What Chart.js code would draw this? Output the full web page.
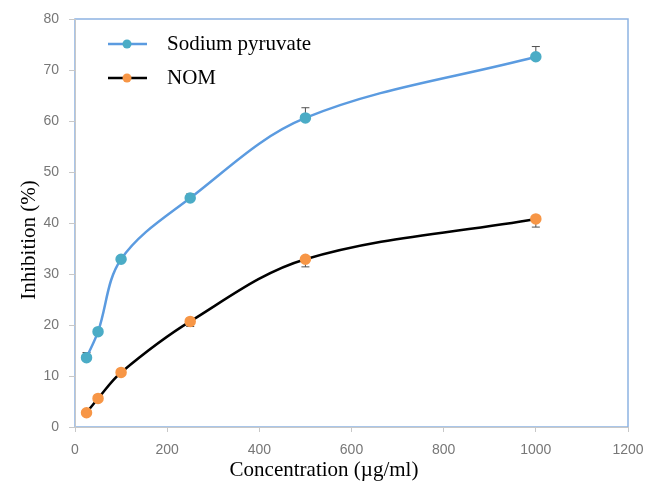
<!DOCTYPE html>
<html>
<head>
<meta charset="utf-8">
<script src="https://cdn.jsdelivr.net/npm/chart.js@4/dist/chart.umd.min.js"></script>
<style>
  html, body { margin: 0; padding: 0; background: #fff; }
  #wrap { width: 648px; height: 482px; }
</style>
</head>
<body>
<div id="wrap"><canvas id="inhibitionChart"></canvas></div>
<script>
// Données
const concentrations = [25, 50, 100, 250, 500, 1000];
const pyruvateValues = [13.6, 18.7, 32.9, 44.9, 60.6, 72.6];
const pyruvateErrors = [1, 0.5, 0.5, 0.8, 2, 2];
const nomValues = [2.8, 5.6, 10.7, 20.7, 32.9, 40.8];
const nomErrors = [0.5, 0.5, 0.5, 1, 1.5, 1.6];
const xTicks = [0, 200, 400, 600, 800, 1000, 1200];
const yTicks = [0, 10, 20, 30, 40, 50, 60, 70, 80];
const seriesNames = ['Sodium pyruvate', 'NOM'];
const xTitle = 'Concentration (\u00b5g/ml)';
const yTitle = 'Inhibition (%)';

const serif = '"Liberation Serif", "Times New Roman", serif';
const sans = '"Liberation Sans", Arial, sans-serif';

// barres d'erreur (SP vers le haut, NOM vers le bas) dessinées sous les marqueurs
const errorBars = {
    id: 'errorBars',
    beforeDatasetsDraw(chart) {
        const ctx = chart.ctx;
        const x = chart.scales.x, y = chart.scales.y;
        const sets = [[pyruvateValues, pyruvateErrors, 1], [nomValues, nomErrors, -1]];
        ctx.save();
        ctx.strokeStyle = '#505050';
        ctx.lineWidth = 1;
        sets.forEach(([vals, errs, dir]) => {
            vals.forEach((v, i) => {
                const px = x.getPixelForValue(concentrations[i]);
                const p0 = y.getPixelForValue(v);
                const p1 = y.getPixelForValue(v + dir * errs[i]);
                ctx.beginPath();
                ctx.moveTo(px, p0); ctx.lineTo(px, p1);
                ctx.moveTo(px - 4, p1); ctx.lineTo(px + 4, p1);
                ctx.stroke();
            });
        });
        ctx.restore();
    }
};

// cadre bleu, légende et titres des axes
const decorations = {
    id: 'decorations',
    beforeDraw(chart) {
        const {ctx, chartArea: a} = chart;
        ctx.save();
        ctx.strokeStyle = '#8db3e2';
        ctx.lineWidth = 1.5;
        ctx.strokeRect(a.left, a.top, a.right - a.left, a.bottom - a.top);
        ctx.restore();
    },
    afterDraw(chart) {
        const ctx = chart.ctx;
        ctx.save();
        ctx.fillStyle = '#000';
        ctx.font = '21px ' + serif;
        ctx.textAlign = 'center';
        ctx.textBaseline = 'middle';
        ctx.fillText(xTitle, 324, 470);
        ctx.translate(29, 240);
        ctx.rotate(-Math.PI / 2);
        ctx.fillText(yTitle, 0, 0);
        ctx.restore();

        const legendRows = [[44, chart.data.datasets[0]], [78, chart.data.datasets[1]]];
        ctx.save();
        legendRows.forEach(([ly, ds], i) => {
            ctx.strokeStyle = ds.borderColor;
            ctx.lineWidth = 2.5;
            ctx.beginPath();
            ctx.moveTo(108, ly); ctx.lineTo(147, ly);
            ctx.stroke();
            ctx.fillStyle = ds.pointBackgroundColor;
            ctx.beginPath();
            ctx.arc(127, ly, 4.5, 0, Math.PI * 2);
            ctx.fill();
            ctx.fillStyle = '#000';
            ctx.font = '21px ' + serif;
            ctx.textAlign = 'left';
            ctx.textBaseline = 'middle';
            ctx.fillText(seriesNames[i], 167, ly);
        });
        ctx.restore();
    }
};

new Chart(document.getElementById('inhibitionChart'), {
    type: 'line',
    data: {
        datasets: [{
            label: seriesNames[0],
            data: concentrations.map((c, i) => ({x: c, y: pyruvateValues[i]})),
            borderColor: '#5b9be0',
            borderWidth: 2.5,
            pointBackgroundColor: '#4bacc6',
            pointBorderColor: '#4bacc6',
            pointRadius: 4.5,
            tension: 0.35
        }, {
            label: seriesNames[1],
            data: concentrations.map((c, i) => ({x: c, y: nomValues[i]})),
            borderColor: '#000000',
            borderWidth: 2.5,
            pointBackgroundColor: '#f79646',
            pointBorderColor: '#f79646',
            pointRadius: 4.5,
            tension: 0.35
        }]
    },
    options: {
        responsive: true,
        maintainAspectRatio: false,
        animation: false,
        layout: { padding: { top: 19, right: 20, left: 0, bottom: 0 } },
        scales: {
            x: {
                type: 'linear',
                min: 0,
                max: 1200,
                afterBuildTicks(scale) { scale.ticks = xTicks.map(v => ({value: v})); },
                afterFit(scale) {
                    scale.height = 55;
                    scale.paddingLeft = 0;
                    scale.paddingRight = 0;
                },
                grid: { drawOnChartArea: false, tickLength: 5, color: '#c8c8c8' },
                border: { color: '#c8c8c8' },
                ticks: { color: '#777', padding: 10, font: { size: 14, family: sans }, callback: v => String(v) }
            },
            y: {
                min: 0,
                max: 80,
                afterBuildTicks(scale) { scale.ticks = yTicks.map(v => ({value: v})); },
                afterFit(scale) {
                    scale.width = 75;
                    scale.paddingTop = 0;
                    scale.paddingBottom = 0;
                },
                grid: { drawOnChartArea: false, tickLength: 6, color: '#c8c8c8' },
                border: { color: '#c8c8c8' },
                ticks: { color: '#777', padding: 10, font: { size: 14, family: sans }, callback: v => String(v) }
            }
        },
        plugins: {
            legend: { display: false },
            tooltip: { enabled: false }
        }
    },
    plugins: [errorBars, decorations]
});
</script>
</body>
</html>
